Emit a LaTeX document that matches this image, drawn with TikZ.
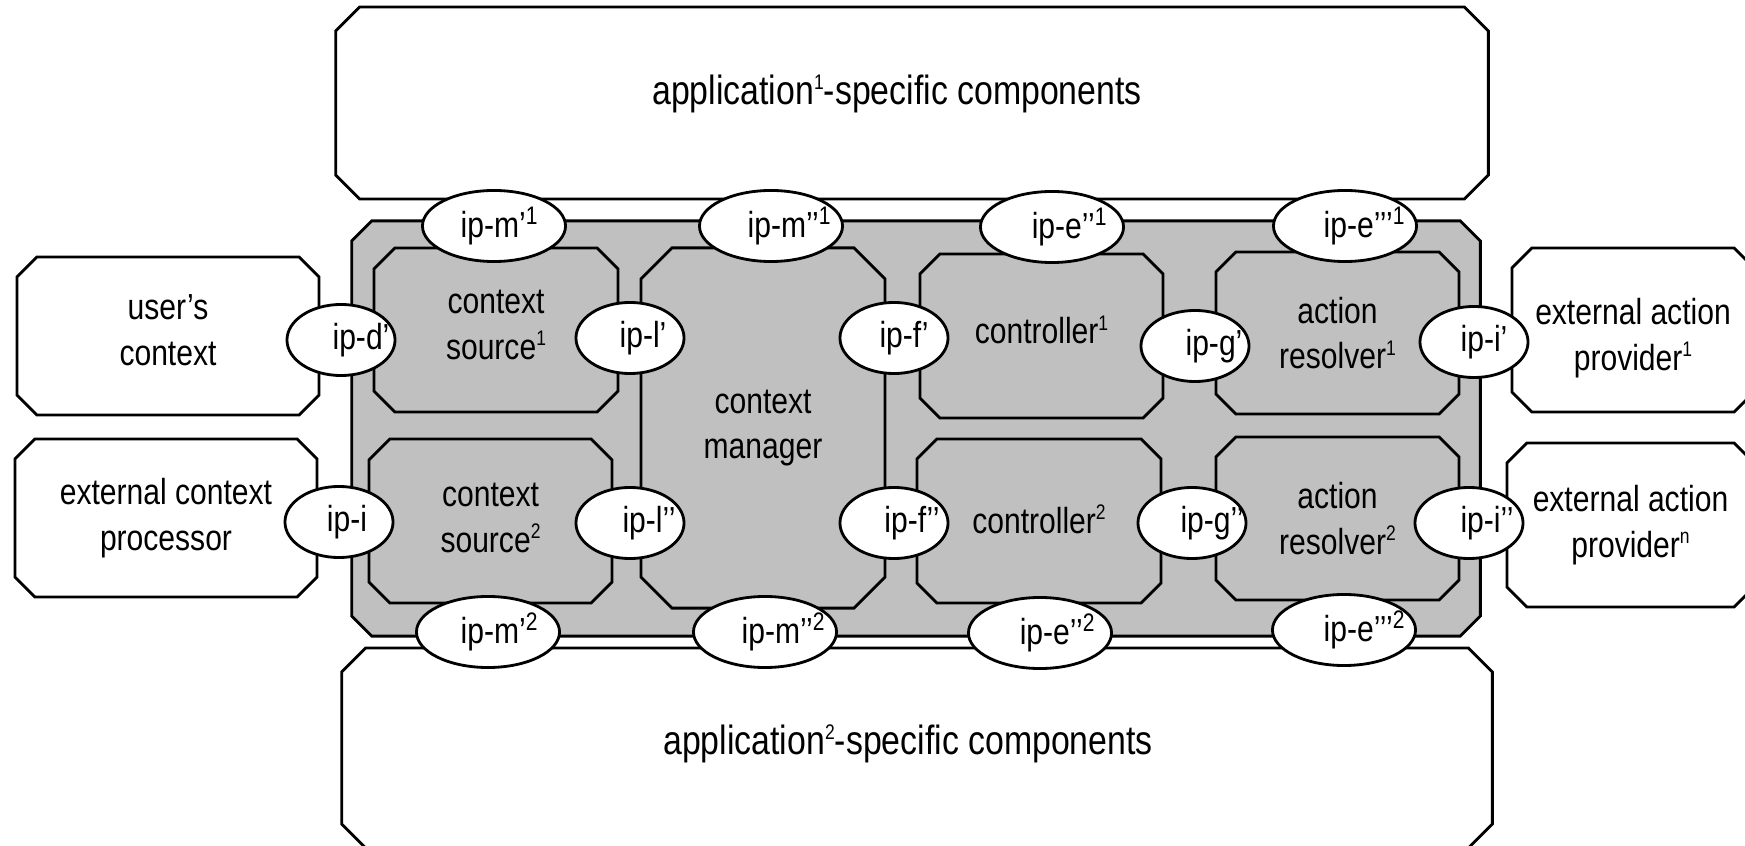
\documentclass[tikz,border=0pt]{standalone}
\usepackage{fontspec}
\setmainfont{Liberation Sans}[FakeStretch=0.83]
\usetikzlibrary{shapes.geometric,calc}
\pgfdeclarelayer{outer}
\pgfdeclarelayer{inner}
\pgfsetlayers{outer,inner,main}

\definecolor{panel}{RGB}{192,192,192}

\tikzset{
  lbl/.style={font=\fontsize{10.3}{13}\selectfont, align=center, inner sep=0pt},
  biglbl/.style={lbl, font=\fontsize{11.6}{14}\selectfont},
  box/.style={rectangle, inner sep=0pt, outer sep=0pt},
  port/.style={ellipse, draw, fill=white, line width=0.8pt, inner sep=0pt,
    minimum width=1.08cm, minimum height=0.71cm},
  wideport/.style={port, minimum width=1.43cm},
  outline/.style={line width=0.8pt, line join=miter},
}

% small raised index used inside the component labels
\newcommand\idx[1]{\raisebox{0.72ex}{\fontsize{6}{6}\selectfont #1}}

% chamfered outline around a named node: layer, node, cut (px), fill
\newcommand\chamferbox[4]{%
  \begin{pgfonlayer}{#1}
  \draw[outline, fill=#4]
    ($(#2.north west)+(#3,0)$) -- ($(#2.north east)+(-#3,0)$) --
    ($(#2.north east)+(0,#3)$) -- ($(#2.south east)+(0,-#3)$) --
    ($(#2.south east)+(-#3,0)$) -- ($(#2.south west)+(#3,0)$) --
    ($(#2.south west)+(0,-#3)$) -- ($(#2.north west)+(0,#3)$) -- cycle;
  \end{pgfonlayer}}

% block: [fill] layer, name, x,y, width (cm), height (cm), cut (px), text shift (px)
\newcommand\block[8][white]{%
  \node[box, minimum width=#5cm, minimum height=#6cm] (#3) at (#4) {};
  \chamferbox{#2}{#3}{#7}{#1}%
  \def\blockname{#3}\def\blockshift{#8}}
\newcommand\blocktext[2][lbl]{%
  \node[#1] (\blockname-t) at ($(\blockname)+(0,\blockshift)$) {#2};}

% interface port: style, name, x, y, text offset (px), text
\newcommand\port[6]{%
  \node[#1] (#2) at (#3,#4) {};
  \node[lbl] (#2-t) at ($(#2)+(#5,0)$) {#6};}

\begin{document}
\begin{tikzpicture}[x=0.01cm, y=-0.01cm]
\useasboundingbox (0,0) rectangle (1745,846);

% application-specific component blocks
\block{outer}{app1}{912,103}{11.52}{1.92}{24}{-9}
\node[biglbl] (app1-t) at ($(app1)+(-15,-9)$) {application\idx{1}-specific components};
\block{outer}{app2}{917,748}{11.50}{2.00}{24}{-4}
\node[biglbl] (app2-t) at ($(app2)+(-9,-4)$) {application\idx{2}-specific components};

% shared framework panel
\block[panel]{outer}{frame}{916,428.5}{11.28}{4.15}{20}{0}

% external parties
\block{outer}{usr}{168,336}{3.02}{1.58}{20}{-6}
\blocktext{user’s\\context}
\block{outer}{ecp}{166,518}{3.02}{1.58}{20}{0}
\blocktext{external context\\processor}
\block{outer}{eap1}{1633,330}{2.42}{1.64}{20}{8}
\blocktext{external action\\provider\idx{1}}
\block{outer}{eapn}{1630.5,525}{2.47}{1.64}{20}{0}
\blocktext{external action\\provider\idx{n}}

% framework components
\block[panel]{inner}{cs1}{496,330}{2.44}{1.64}{21}{-5}
\blocktext{context\\source\idx{1}}
\block[panel]{inner}{cs2}{490.5,521}{2.43}{1.64}{21}{-3}
\blocktext{context\\source\idx{2}}
\block[panel]{inner}{cm}{763,428}{2.44}{3.60}{31}{0}
\blocktext{context\\manager}
\block[panel]{inner}{ct1}{1041.5,336}{2.43}{1.64}{20}{-6}
\blocktext{controller\idx{1}}
\block[panel]{inner}{ct2}{1039,521}{2.44}{1.64}{20}{-2}
\blocktext{controller\idx{2}}
\block[panel]{inner}{ar1}{1337.5,333}{2.43}{1.62}{20}{0}
\blocktext{action\\resolver\idx{1}}
\block[panel]{inner}{ar2}{1337.5,518.5}{2.43}{1.63}{20}{0}
\blocktext{action\\resolver\idx{2}}

% side interface points
\port{port}{ipd}{341}{340}{20}{ip-d’}
\port{port}{ipi}{339}{522}{8}{ip-i}
\port{port}{ipl1}{630}{338}{13}{ip-l’}
\port{port}{ipl2}{630}{523}{19}{ip-l’’}
\port{port}{ipf1}{894}{338}{10}{ip-f’}
\port{port}{ipf2}{894}{523}{18}{ip-f’’}
\port{port}{ipg1}{1195}{346}{19}{ip-g’}
\port{port}{ipg2}{1192}{523}{20}{ip-g’’}
\port{port}{ipi1}{1474}{342}{10}{ip-i’}
\port{port}{ipi2}{1469}{523}{18}{ip-i’’}

% interface points towards the applications
\port{wideport}{ipm1}{494}{226}{6}{ip-m’\textsuperscript{1}}
\port{wideport}{ipmm1}{771}{226}{19}{ip-m’’\textsuperscript{1}}
\port{wideport}{ipe1}{1052}{227}{18}{ip-e’’\textsuperscript{1}}
\port{wideport}{ipee1}{1345}{226}{20}{ip-e’’’\textsuperscript{1}}
\port{wideport}{ipm2}{488}{632}{12}{ip-m’\textsuperscript{2}}
\port{wideport}{ipmm2}{765}{632}{19}{ip-m’’\textsuperscript{2}}
\port{wideport}{ipe2}{1040}{633}{18}{ip-e’’\textsuperscript{2}}
\port{wideport}{ipee2}{1344}{630}{21}{ip-e’’’\textsuperscript{2}}
\end{tikzpicture}
\end{document}
